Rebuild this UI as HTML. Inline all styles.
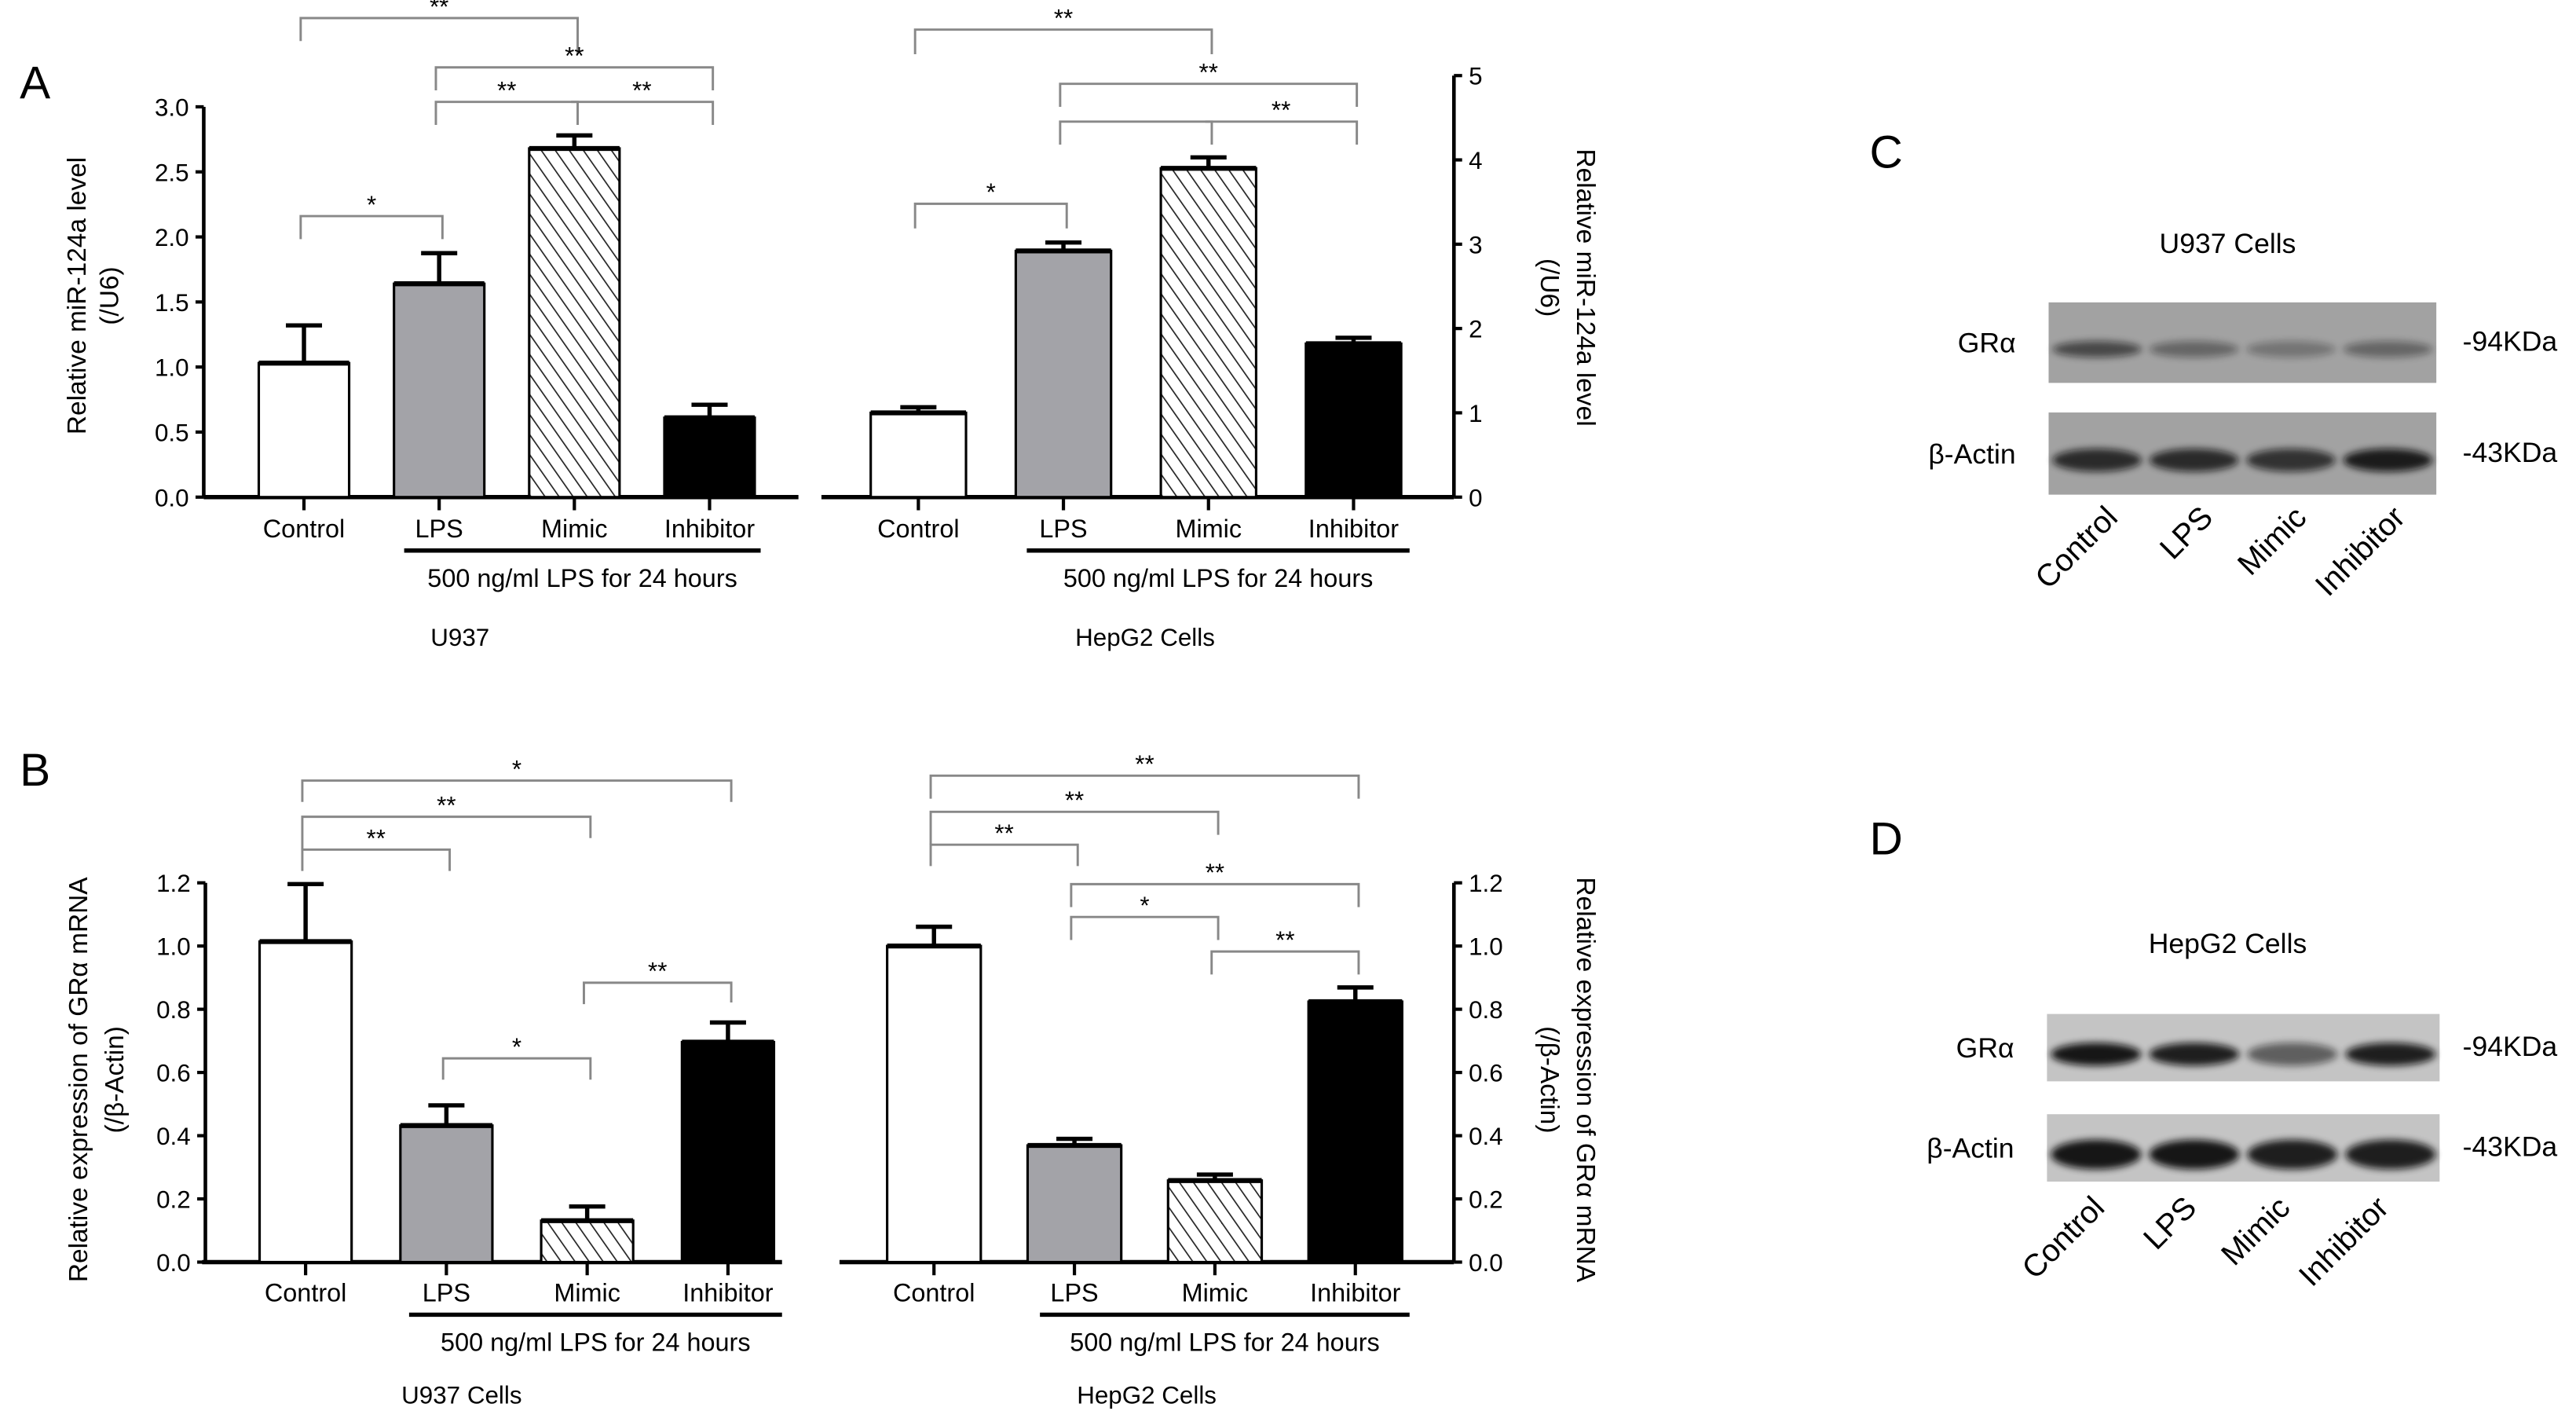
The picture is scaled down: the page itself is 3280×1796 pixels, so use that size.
<!DOCTYPE html>
<html><head><meta charset="utf-8">
<style>
html,body{margin:0;padding:0;background:#fff;}
svg{display:block;font-family:"Liberation Sans",sans-serif;}
</style></head>
<body>
<svg id="fig" width="3280" height="1796" viewBox="0 0 1568 858.6" xmlns="http://www.w3.org/2000/svg">
<defs>
<pattern id="hatch" patternUnits="userSpaceOnUse" width="7" height="7" patternTransform="rotate(-35)">
<rect width="7" height="7" fill="#fff"/>
<line x1="0" y1="0" x2="0" y2="7" stroke="#222" stroke-width="1.6"/>
</pattern>
<filter id="blur" x="-10%" y="-50%" width="120%" height="200%"><feGaussianBlur stdDeviation="2.2"/></filter>
</defs>
<g id="root"></g>
</svg>
<script>
// ---- Data ----
const categories = ["Control","LPS","Mimic","Inhibitor"];
const aU937Values = [1.03, 1.64, 2.68, 0.61];
const aU937Errors = [1.32, 1.875, 2.78, 0.71];
const aHepG2Values = [1.0, 2.92, 3.9, 1.82];
const aHepG2Errors = [1.066, 3.02, 4.03, 1.89];
const bU937Values = [1.014, 0.432, 0.131, 0.696];
const bU937Errors = [1.196, 0.496, 0.176, 0.758];
const bHepG2Values = [1.0, 0.369, 0.258, 0.824];
const bHepG2Errors = [1.061, 0.39, 0.277, 0.869];
const aLeftTicks = ["0.0","0.5","1.0","1.5","2.0","2.5","3.0"];
const aRightTicks = ["0","1","2","3","4","5"];
const bTicks = ["0.0","0.2","0.4","0.6","0.8","1.0","1.2"];

const NS = "http://www.w3.org/2000/svg";
const root = document.getElementById("root");
function el(tag, attrs, parent, text) {
  const e = document.createElementNS(NS, tag);
  for (const k in attrs) e.setAttribute(k, attrs[k]);
  if (text !== undefined) e.textContent = text;
  (parent || root).appendChild(e);
  return e;
}
const fills = ["#fff", "#a3a3a8", "url(#hatch)", "#000"];

function chart(c) {
  const g = el("g", {});
  
  
  const ys = v => c.y0 - (v / c.vmax) * (c.y0 - c.yTop);
  const xs = i => c.cx0 + i * c.step;
  const ax = el("line", {x1: c.axisX, y1: c.yTop, x2: c.axisX, y2: c.y0, stroke: "#000", "stroke-width": 2.2}, g);
  
  
  const bl = el("line", {x1: c.baseX1, y1: c.y0, x2: c.baseX2, y2: c.y0, stroke: "#000", "stroke-width": 2.6}, g);
  
  
  c.ticks.forEach((t, k) => {
    const v = parseFloat(t);
    const y = ys(v);
    const dir = c.right ? 1 : -1;
    el("line", {x1: c.axisX, y1: y, x2: c.axisX + dir * 5, y2: y, stroke: "#000", "stroke-width": 2}, g);
    const tx = el("text", {x: c.axisX + dir * 9, y: y + 5.5, "font-size": 15, "text-anchor": c.right ? "start" : "end"}, g, t);
    
    
  });
  categories.forEach((cat, i) => {
    const x = xs(i);
    el("line", {x1: x, y1: c.y0, x2: x, y2: c.y0 + 8, stroke: "#000", "stroke-width": 2}, g);
    const top = ys(c.values[i]);
    const bar = el("rect", {x: x - c.bw / 2, y: top, width: c.bw, height: c.y0 - top, fill: fills[i], stroke: "#000", "stroke-width": 1.5}, g);
    
    
    el("line", {x1: x - c.bw / 2, y1: top, x2: x + c.bw / 2, y2: top, stroke: "#000", "stroke-width": 3}, g);
    const et = ys(c.errors[i]);
    const eb = el("path", {d: `M${x},${top} V${et} M${x - 11},${et} H${x + 11}`, stroke: "#000", "stroke-width": 2.6, fill: "none"}, g);
    
    
    const lb = el("text", {x: x, y: c.catY, "font-size": 15.5, "text-anchor": "middle"}, g, cat);
    
    
  });
  el("line", {x1: c.trtX1, y1: c.trtY, x2: c.trtX2, y2: c.trtY, stroke: "#000", "stroke-width": 2.6}, g);
  const tr = el("text", {x: (c.trtX1 + c.trtX2) / 2, y: c.trtY + 22, "font-size": 15.5, "text-anchor": "middle"}, g, "500 ng/ml LPS for 24 hours");
  
  
  const cl = el("text", {x: c.cellX, y: c.cellY, "font-size": 15, "text-anchor": "middle"}, g, c.cell);
  
  
  c.brackets.forEach(b => {
    const [i, j, y, l1, l2, s] = b;
    const x1 = xs(i) - 2, x2 = xs(j) + 2;
    const br = el("path", {d: `M${x1},${y + l1} V${y} H${x2} V${y + l2}`, stroke: "#888", "stroke-width": 1.4, fill: "none"}, g);
    
    
    if (s) {
      const st = el("text", {x: (x1 + x2) / 2, y: y - 2, "font-size": 15, "text-anchor": "middle"}, g, s);
      
      
    }
  });
  if (c.ylabel) {
    const rot = c.right ? 90 : -90;
    const t1 = el("text", {x: c.ylx1, y: c.ylcy, "font-size": 16, "text-anchor": "middle", transform: `rotate(${rot} ${c.ylx1} ${c.ylcy})`}, g, c.ylabel[0]);
    
    
    const t2 = el("text", {x: c.ylx2, y: c.ylcy, "font-size": 16, "text-anchor": "middle", transform: `rotate(${rot} ${c.ylx2} ${c.ylcy})`}, g, c.ylabel[1]);
    
    
  }
}

chart({name: "chart-a-u937", axisX: 124, yTop: 65, y0: 302.5, vmax: 3, ticks: aLeftTicks, values: aU937Values, errors: aU937Errors,
  cx0: 185, step: 82.3, bw: 55, baseX1: 124, baseX2: 486, catY: 327, trtX1: 246, trtX2: 463, trtY: 335,
  cell: "U937", cellX: 280, cellY: 393,
  brackets: [[0, 2, 11, 14, 22, "**"], [1, 3, 41, 14, 14, "**"], [1, 2, 62, 14, 14, "**"], [2, 3, 62, 0, 14, "**"], [0, 1, 131.5, 14, 14, "*"]],
  ylabel: ["Relative miR-124a level", "(/U6)"], ylx1: 52, ylx2: 72, ylcy: 180});
chart({name: "chart-a-hepg2", right: true, axisX: 885, yTop: 46, y0: 302.5, vmax: 5, ticks: aRightTicks, values: aHepG2Values, errors: aHepG2Errors,
  cx0: 559, step: 88.3, bw: 58, baseX1: 500, baseX2: 885, catY: 327, trtX1: 625, trtX2: 858, trtY: 335,
  cell: "HepG2 Cells", cellX: 697, cellY: 393,
  brackets: [[0, 2, 18, 15, 15, "**"], [1, 3, 51, 14, 14, "**"], [1, 2, 74, 14, 14, ""], [2, 3, 74, 0, 14, "**"], [0, 1, 124, 15, 15, "*"]],
  ylabel: ["Relative miR-124a level", "(/U6)"], ylx1: 960, ylx2: 938, ylcy: 175});
chart({name: "chart-b-u937", axisX: 125, yTop: 537.2, y0: 768, vmax: 1.2, ticks: bTicks, values: bU937Values, errors: bU937Errors,
  cx0: 186, step: 85.7, bw: 56, baseX1: 123, baseX2: 476, catY: 792, trtX1: 249, trtX2: 476, trtY: 800,
  cell: "U937 Cells", cellX: 281, cellY: 854,
  brackets: [[0, 3, 475, 13, 13, "*"], [0, 2, 497, 20, 13, "**"], [0, 1, 517, 13, 13, "**"], [1, 2, 644, 13, 13, "*"], [2, 3, 598, 13, 12, "**"]],
  ylabel: ["Relative expression of GR\u03b1 mRNA", "(/\u03b2-Actin)"], ylx1: 53, ylx2: 75, ylcy: 657});
chart({name: "chart-b-hepg2", right: true, axisX: 885, yTop: 537.2, y0: 768, vmax: 1.2, ticks: bTicks, values: bHepG2Values, errors: bHepG2Errors,
  cx0: 568.5, step: 85.5, bw: 57, baseX1: 511, baseX2: 885, catY: 792, trtX1: 633, trtX2: 858, trtY: 800,
  cell: "HepG2 Cells", cellX: 698, cellY: 854,
  brackets: [[0, 3, 472, 14, 14, "**"], [0, 2, 494, 20, 14, "**"], [0, 1, 514, 13, 13, "**"], [1, 3, 538, 14, 14, "**"], [1, 2, 558, 14, 14, "*"], [2, 3, 579, 14, 14, "**"]],
  ylabel: ["Relative expression of GR\u03b1 mRNA", "(/\u03b2-Actin)"], ylx1: 960, ylx2: 938, ylcy: 657});

[["A", 12, 60], ["B", 12, 478], ["C", 1138, 102], ["D", 1138, 520]].forEach(p => {
  const t = el("text", {x: p[1], y: p[2], "font-size": 28}, root, p[0]);
  
  
});

const blotLanes = ["Control", "LPS", "Mimic", "Inhibitor"];
const cGRaIntensity = [0.6, 0.4, 0.3, 0.4];
const cActinIntensity = [0.8, 0.8, 0.75, 0.9];
const dGRaIntensity = [0.95, 0.9, 0.55, 0.9];
const dActinIntensity = [0.95, 0.95, 0.9, 0.9];

function blot(b) {
  const g = el("g", {});
  
  
  const ti = el("text", {x: 1356, y: b.titleY, "font-size": 17, "text-anchor": "middle"}, g, b.title);
  
  
  b.rows.forEach(r => {
    const box = el("rect", {x: b.x1, y: r.y1, width: b.x2 - b.x1, height: r.y2 - r.y1, fill: b.bg}, g);
    
    
    const lw = (b.x2 - b.x1) / 4;
    r.int.forEach((v, i) => {
      const cx = b.x1 + lw * (i + 0.5);
      const cy = (r.y1 + r.y2) / 2 + 4;
      const band = el("ellipse", {cx: cx, cy: cy, rx: lw * 0.46, ry: r.h, fill: "#111", opacity: v, filter: "url(#blur)"}, g);
      
      
    });
    const lab = el("text", {x: b.x1 - 20, y: (r.y1 + r.y2) / 2 + 6, "font-size": 17, "text-anchor": "end"}, g, r.label);
    
    
    const kd = el("text", {x: 1499, y: (r.y1 + r.y2) / 2 + 5, "font-size": 17}, g, r.kda);
    
    
  });
  blotLanes.forEach((l, i) => {
    const x = b.labX[i], y = b.labY;
    const t = el("text", {x: x, y: y, "font-size": 19, "text-anchor": "end", transform: `rotate(-45 ${x} ${y})`}, g, l);
    
    
  });
}
blot({name: "blot-c-u937", title: "U937 Cells", titleY: 154, x1: 1247, x2: 1483, bg: "#a2a2a2",
  rows: [{y1: 184, y2: 233, int: cGRaIntensity, h: 5, label: "GR\u03b1", kda: "-94KDa"},
         {y1: 251, y2: 301, int: cActinIntensity, h: 7, label: "\u03b2-Actin", kda: "-43KDa"}],
  labX: [1290, 1348, 1405, 1465], labY: 316});
blot({name: "blot-d-hepg2", title: "HepG2 Cells", titleY: 580, x1: 1246, x2: 1485, bg: "#c4c4c4",
  rows: [{y1: 617, y2: 658, int: dGRaIntensity, h: 7, label: "GR\u03b1", kda: "-94KDa"},
         {y1: 678, y2: 719, int: dActinIntensity, h: 9, label: "\u03b2-Actin", kda: "-43KDa"}],
  labX: [1282, 1338, 1395, 1455], labY: 736});
</script>
</body></html>
